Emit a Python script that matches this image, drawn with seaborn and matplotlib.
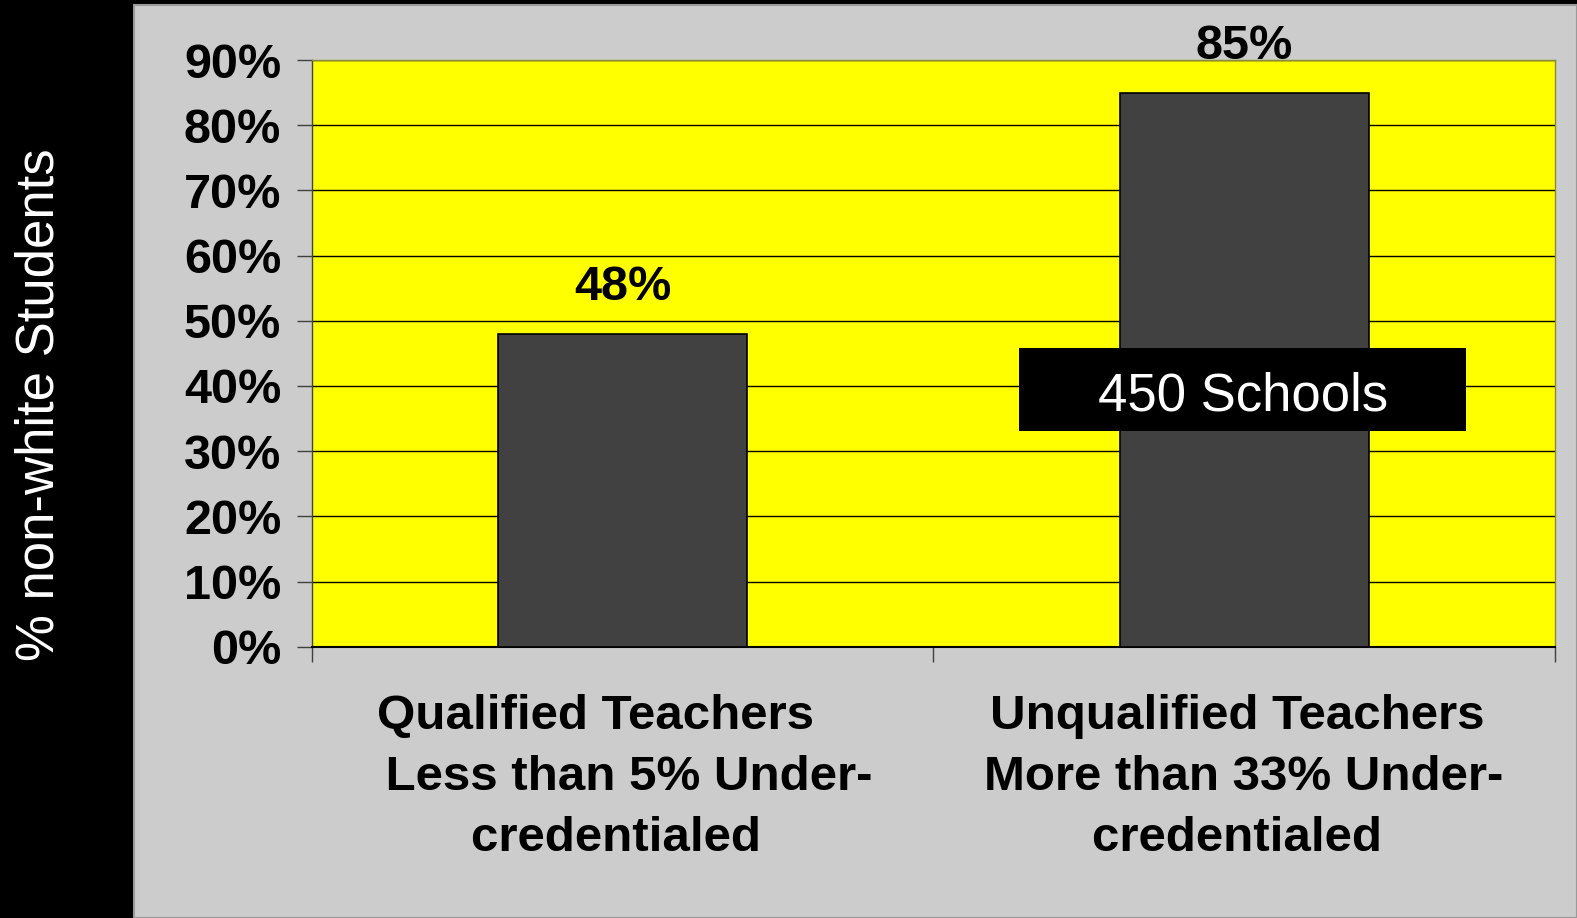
import matplotlib
matplotlib.use("Agg")
import matplotlib.pyplot as plt
from matplotlib.patches import Rectangle
from matplotlib.ticker import FixedLocator, FuncFormatter
import seaborn as sns
import pandas as pd

# ---- data ----
categories = [
    "Qualified Teachers    \n Less than 5% Under-\ncredentialed ",
    "Unqualified Teachers \nMore than 33% Under-\ncredentialed ",
]
values = [48, 85]
value_labels = ["48%", "85%"]
y_ticks = [0, 10, 20, 30, 40, 50, 60, 70, 80, 90]
y_label = "% non-white Students"
note_text = "450 Schools"
note_box = (0.638, 33.1, 1.357, 45.8)   # x0, y0, x1, y1 in data units
note_baseline = 36.3

sns.set_theme(style="white")
plt.rcParams["font.family"] = ["Liberation Sans", "DejaVu Sans"]

W, H = 1577, 918
fig = plt.figure(figsize=(W / 100, H / 100), dpi=100, facecolor="black")

# gray panel
panel = Rectangle((134 / W, 0), 1 - 134 / W, 1 - 5 / H, transform=fig.transFigure,
                  facecolor="#CCCCCC", edgecolor="#9A9A9A", linewidth=1.5, zorder=-10)
fig.patches.append(panel)

ax = fig.add_axes([311.7 / W, 1 - 646.7 / H, (1555 - 311.7) / W, (646.7 - 60) / H])
ax.set_zorder(2)
ax.set_facecolor("#FFFF00")

df = pd.DataFrame({"cat": categories, "val": values})
sns.barplot(data=df, x="cat", y="val", color="#414141", saturation=1, width=0.4,
            edgecolor="black", linewidth=1.2, ax=ax, zorder=3)

ax.set_xlim(-0.5, 1.5)
ax.set_ylim(0, 90)
ax.yaxis.set_major_locator(FixedLocator(y_ticks))
ax.yaxis.set_major_formatter(FuncFormatter(lambda v, p: f"{v:.0f}%"))
ax.grid(axis="y", color="black", linewidth=1.0, zorder=1)
ax.set_axisbelow(True)
ax.set_xlabel("")
ax.set_ylabel("")

ax.tick_params(axis="y", which="major", direction="out", length=11, width=1,
               color="#404040", pad=11, labelsize=35, left=True)
for t in ax.get_yticklabels():
    t.set_fontweight("bold")
    t.set_color("black")

# x: labels at centers (no tick), tick marks at boundaries
ax.set_xticks([-0.5, 0.5, 1.5], minor=True)
ax.tick_params(axis="x", which="minor", direction="out", length=11, width=1,
               color="#404040", bottom=True)
ax.tick_params(axis="x", which="major", length=0, pad=34, labelsize=35.5)
for t in ax.get_xticklabels():
    t.set_fontweight("bold")
    t.set_color("black")
    t.set_linespacing(1.46)
    t.set_multialignment("center")

for s in ["top", "right"]:
    ax.spines[s].set_color("#8A8A3A")
    ax.spines[s].set_linewidth(1)
ax.spines["left"].set_color("#404040")
ax.spines["left"].set_linewidth(1)
ax.spines["bottom"].set_color("black")
ax.spines["bottom"].set_linewidth(1.5)

# value labels
for i, (v, lab) in enumerate(zip(values, value_labels)):
    ax.annotate(lab, xy=(i, v), xytext=(0, 24), textcoords="offset points",
                ha="center", va="baseline", fontsize=35, fontweight="bold",
                color="black", annotation_clip=False, zorder=5)

# note box
x0, y0, x1, y1 = note_box
ax.add_patch(Rectangle((x0, y0), x1 - x0, y1 - y0, facecolor="black",
                       edgecolor="none", zorder=6, clip_on=False))
ax.text((x0 + x1) / 2, note_baseline, note_text, ha="center", va="baseline",
        fontsize=38, color="white", zorder=7)

# y axis title in black strip
fig.text(40 / W, 1 - 405 / H, y_label, rotation=90, ha="center", va="center",
         fontsize=38, color="white")

fig.savefig("out.png", dpi=100, facecolor="black")
